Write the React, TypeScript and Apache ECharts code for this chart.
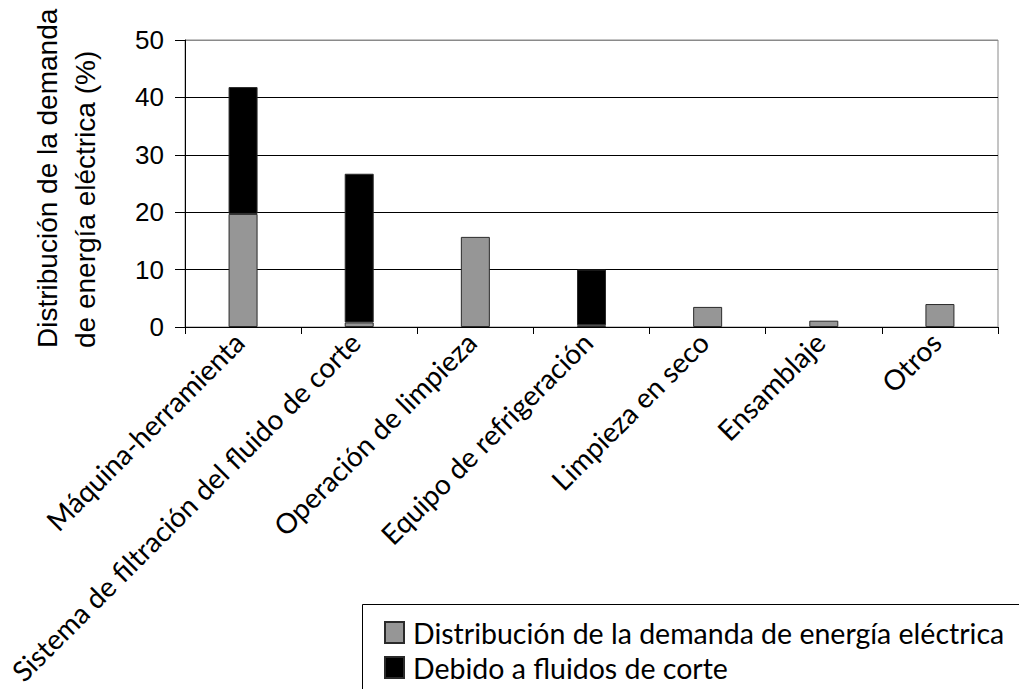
import { useEffect, useRef } from "react";
import * as echarts from "echarts";

// Share of electrical energy demand per consumer in the machining plant (%)
const categories = [
  "Máquina-herramienta",
  "Sistema de filtración del fluido de corte",
  "Operación de limpieza",
  "Equipo de refrigeración",
  "Limpieza en seco",
  "Ensamblaje",
  "Otros",
];
const demandShare = [19.7, 0.8, 15.7, 0.3, 3.5, 1.1, 4.0];
const cuttingFluidShare: (number | string)[] = [22.1, 25.9, "-", 9.7, "-", "-", "-"];
const seriesNames = [
  "Distribución de la demanda de energía eléctrica",
  "Debido a fluidos de corte",
];
const yTitleLines = ["Distribución de la demanda", "de energía eléctrica (%)"];
const yMin = 0;
const yMax = 50;
const yStep = 10;

const labelFont = "Lato, 'Open Sans', sans-serif";
const numberFont = "'Liberation Sans', Arial, sans-serif";

export default function App() {
  const ref = useRef<HTMLDivElement>(null);

  useEffect(() => {
    if (!ref.current) return;
    const chart = echarts.init(ref.current, undefined, { renderer: "svg" });
    chart.setOption({
      animation: false,
      backgroundColor: "#ffffff",
      grid: {
        left: 185,
        right: 21,
        top: 40,
        bottom: 362,
        containLabel: false,
        outerBoundsMode: "none",
        show: true,
        borderColor: "#8a8a8a",
        borderWidth: 1,
        backgroundColor: "transparent",
      },
      xAxis: {
        type: "category",
        data: categories,
        axisLine: { show: true, lineStyle: { color: "#000", width: 1 } },
        axisTick: { show: true, length: 7, lineStyle: { color: "#000", width: 1 } },
        axisLabel: {
          interval: 0,
          rotate: 45,
          margin: 6,
          padding: [0, 6, 0, 0],
          color: "#000",
          fontFamily: labelFont,
          fontSize: 28,
        },
        splitLine: { show: false },
      },
      yAxis: {
        type: "value",
        min: yMin,
        max: yMax,
        interval: yStep,
        axisLine: { show: true, lineStyle: { color: "#000", width: 1 } },
        axisTick: { show: true, length: 10, lineStyle: { color: "#000", width: 1 } },
        axisLabel: {
          margin: 21,
          color: "#000",
          fontFamily: numberFont,
          fontSize: 26,
        },
        splitLine: {
          show: true,
          lineStyle: {
            color: ["#000", "#000", "#000", "#000", "#000", "#8a8a8a"],
            width: 1,
          },
        },
      },
      legend: {
        orient: "vertical",
        left: 384,
        top: 618,
        height: 120,
        padding: 0,
        itemWidth: 19,
        itemHeight: 21,
        itemGap: 6,
        icon: "rect",
        textStyle: {
          color: "#000",
          fontFamily: labelFont,
          fontSize: 28.5,
          padding: [0, 0, 0, 4],
        },
        data: seriesNames,
      },
      graphic: [
        {
          type: "rect",
          shape: { x: 362.5, y: 604.5, width: 700, height: 150 },
          style: { fill: "none", stroke: "#000", lineWidth: 1 },
          silent: true,
        },
        {
          type: "text",
          x: 47,
          y: 348,
          rotation: Math.PI / 2,
          style: {
            text: yTitleLines[0],
            fill: "#000",
            font: `28px ${numberFont}`,
            textAlign: "left",
            textVerticalAlign: "middle",
          },
        },
        {
          type: "text",
          x: 85,
          y: 348,
          rotation: Math.PI / 2,
          style: {
            text: yTitleLines[1],
            fill: "#000",
            font: `28px ${numberFont}`,
            textAlign: "left",
            textVerticalAlign: "middle",
          },
        },
      ],
      series: [
        {
          name: seriesNames[0],
          type: "bar",
          stack: "total",
          barWidth: 29,
          data: demandShare,
          itemStyle: { color: "#969696", borderColor: "#2a2a2a", borderWidth: 1 },
        },
        {
          name: seriesNames[1],
          type: "bar",
          stack: "total",
          barWidth: 29,
          data: cuttingFluidShare,
          itemStyle: { color: "#000000", borderColor: "#2a2a2a", borderWidth: 1 },
        },
      ],
    });
    return () => chart.dispose();
  }, []);

  return (
    <div
      ref={ref}
      style={{ position: "fixed", left: 0, top: 0, width: 1019, height: 689, background: "#fff" }}
    />
  );
}
